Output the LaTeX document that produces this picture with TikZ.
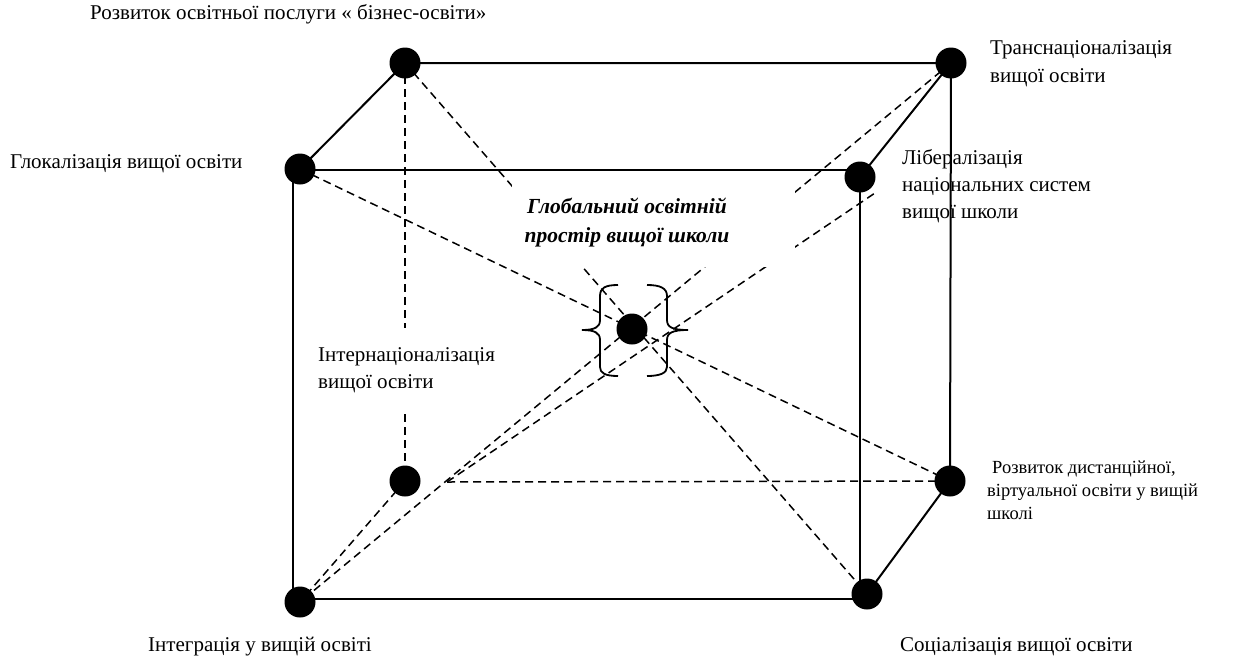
\documentclass[tikz,border=0pt]{standalone}
\usepackage{fontspec}
\setmainfont{Liberation Serif}
\newcommand\hs{\rule{0pt}{17pt}}
\begin{document}
\begin{tikzpicture}[x=1pt,y=-1pt,
  dot/.style={circle,fill=black,inner sep=0pt,minimum size=31pt},
  edge/.style={line width=2pt},
  hid/.style={line width=1.5pt,dash pattern=on 8pt off 5pt},
  lbl/.style={inner sep=0pt,anchor=north west,align=left},
  bracestyle/.style={line width=1.8pt}]
\useasboundingbox (0,0) rectangle (1236,659);
% dots
\node[dot] (btl) at (405,63) {};
\node[dot] (btr) at (951,63) {};
\node[dot] (ftl) at (300,169) {};
\node[dot] (ftr) at (860,177) {};
\node[dot] (c)   at (632,329) {};
\node[dot] (bbl) at (405,481) {};
\node[dot] (bbr) at (950,481) {};
\node[dot] (fbl) at (300,602) {};
\node[dot] (fbr) at (867,594) {};
% front face corners
\coordinate (f1) at (293,169.5);
\coordinate (f2) at (860,169.5);
\coordinate (f3) at (860,599);
\coordinate (f4) at (293,599);
\coordinate (h0) at (447,482);
\coordinate (h1) at (875,193);
% hidden lines
\draw[hid] (btl.center) -- (bbl.center);
\draw[hid] (bbl.center) -- (fbl.center);
\draw[hid] (h0) -- (bbr.center);
\draw[hid] (ftl.center) -- (bbr.center);
\draw[hid] (btl.center) -- (fbr.center);
\draw[hid] (btr.center) -- (fbl.center);
\draw[hid] (h0) -- (h1);
% masks
\fill[white] (512,182) rectangle (795,267);
\fill[white] (397,328) rectangle (413,410);
% solid edges
\draw[edge] (f1) -- (f2) -- (f3) -- (f4) -- cycle;
\draw[edge] (btl.center) -- (btr.center) -- (bbr.center);
\draw[edge] (btl.center) -- (ftl.center);
\draw[edge] (btr.center) -- (ftr.center);
\draw[edge] (bbr.center) -- (fbr.center);
% braces
\draw[bracestyle] (618,285) .. controls (605,285) and (600,288) .. (600,296) -- (600,320) .. controls (600,327) and (595,330) .. (582,330) .. controls (595,330) and (600,333) .. (600,340) -- (600,367) .. controls (600,373) and (605,376) .. (618,376);
\draw[bracestyle] (647,285) .. controls (660,285) and (667,288) .. (667,296) -- (667,320) .. controls (667,327) and (672,330) .. (688,330) .. controls (672,330) and (667,333) .. (667,340) -- (667,367) .. controls (667,373) and (660,376) .. (647,376);
% labels
\node[lbl,font=\fontsize{21}{28}\selectfont] (t1) at (90,2) {\hs Розвиток освітньої послуги « бізнес-освіти»};
\node[lbl,font=\fontsize{21}{28}\selectfont] (t2) at (990,37) {\hs Транснаціоналізація\\вищої освіти};
\node[lbl,font=\fontsize{21}{28}\selectfont] (t3) at (10,151) {\hs Глокалізація вищої освіти};
\node[lbl,font=\fontsize{21}{27}\selectfont] (t4) at (902,147) {\hs Лібералізація\\національних систем\\вищої школи};
\node[inner sep=0pt,anchor=north,align=center,font=\fontsize{21.5}{29}\selectfont\bfseries\itshape] (t5) at (627,196) {\hs Глобальний освітній\\простір вищої школи};
\node[lbl,font=\fontsize{21}{27}\selectfont] (t6) at (318,344) {\hs Інтернаціоналізація\\вищої освіти};
\node[lbl,font=\fontsize{18.5}{23}\selectfont] (t7) at (987,456) {\hs\hspace*{5pt}Розвиток дистанційної,\\віртуальної освіти у вищій\\школі};
\node[lbl,font=\fontsize{21}{28}\selectfont] (t8) at (148,634) {\hs Інтеграція у вищій освіті};
\node[lbl,font=\fontsize{21}{28}\selectfont] (t9) at (900,634) {\hs Соціалізація вищої освіти};
\end{tikzpicture}
\end{document}
